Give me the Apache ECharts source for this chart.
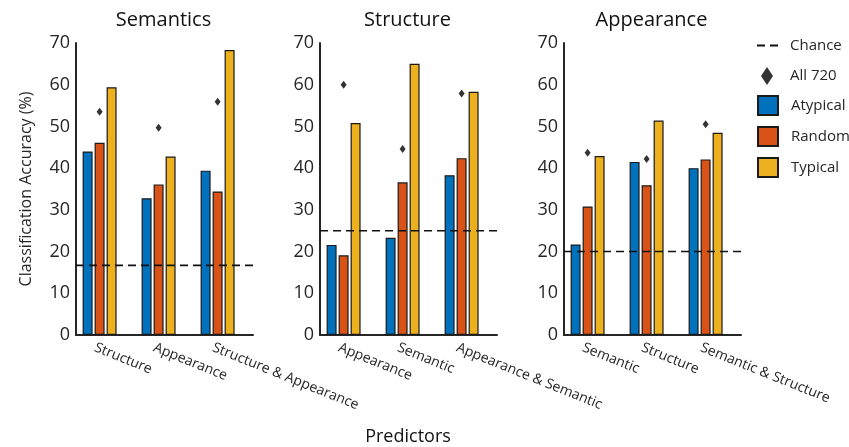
<!DOCTYPE html>
<html>
<head>
<meta charset="utf-8">
<script src="https://cdn.jsdelivr.net/npm/echarts@6/dist/echarts.min.js"></script>
<style>
html,body{margin:0;padding:0;background:#fff;}
#main{width:849px;height:447px;}
</style>
</head>
<body>
<div id="main"></div>
<script>
// ---- data ----
var panelTitles = ['Semantics', 'Structure', 'Appearance'];
var semCats = ['Structure', 'Appearance', 'Structure & Appearance'];
var strCats = ['Appearance', 'Semantic', 'Appearance & Semantic'];
var appCats = ['Semantic', 'Structure', 'Semantic & Structure'];

var semAtypical = [44.0, 32.8, 39.4];
var semRandom   = [46.1, 36.1, 34.4];
var semTypical  = [59.4, 42.8, 68.3];
var semAll720   = [53.5, 49.7, 55.9];

var strAtypical = [21.6, 23.3, 38.3];
var strRandom   = [19.1, 36.6, 42.4];
var strTypical  = [50.8, 65.0, 58.3];
var strAll720   = [60.0, 44.6, 57.9];

var appAtypical = [21.7, 41.5, 40.0];
var appRandom   = [30.8, 35.9, 42.1];
var appTypical  = [42.9, 51.4, 48.5];
var appAll720   = [43.7, 42.2, 50.5];

var chanceLevels = [16.7, 25, 20];
var yTicks = [0, 10, 20, 30, 40, 50, 60, 70];

// ---- build ----
var FONT = '"Open Sans", "DejaVu Sans", sans-serif';
var TXT = '#262626';
var COLORS = {Atypical: '#0072BD', Random: '#D95319', Typical: '#EDB120'};
var panels = [
  {cats: semCats, a: semAtypical, r: semRandom, t: semTypical, all: semAll720},
  {cats: strCats, a: strAtypical, r: strRandom, t: strTypical, all: strAll720},
  {cats: appCats, a: appAtypical, r: appRandom, t: appTypical, all: appAll720}
];
var gridLefts = [76, 320, 564];
var gridW = 177, gridTop = 43, gridH = 292;
var xMin = 0.6, xMax = 3.6;

function pos(arr) { return arr.map(function (v, i) { return [i + 1, v]; }); }

var grids = [], xAxes = [], yAxes = [], series = [], titles = [];
panels.forEach(function (p, k) {
  grids.push({left: gridLefts[k], top: gridTop, width: gridW, height: gridH, containLabel: false});
  xAxes.push({
    type: 'value', gridIndex: k, min: xMin, max: xMax,
    splitLine: {show: false},
    axisLine: {show: true, onZero: false, lineStyle: {color: TXT, width: 2}},
    axisTick: {show: false},
    axisLabel: {
      customValues: [1, 2, 3],
      formatter: (function (cats) { return function (v) { return cats[Math.round(v) - 1] || ''; }; })(p.cats),
      rotate: -22, margin: 14, fontSize: 14, color: TXT, fontFamily: FONT, hideOverlap: false,
      padding: [0, 0, 0, -5]
    }
  });
  yAxes.push({
    type: 'value', gridIndex: k, min: yTicks[0], max: yTicks[yTicks.length - 1], interval: 10,
    splitLine: {show: false},
    axisLine: {show: true, lineStyle: {color: TXT, width: 2}},
    axisTick: {show: false},
    axisLabel: {fontSize: 18, color: TXT, fontFamily: FONT, margin: 6},
    name: k === 0 ? 'Classification Accuracy (%)' : '',
    nameLocation: 'middle', nameGap: 42,
    nameTextStyle: {fontSize: 16, color: TXT, fontFamily: FONT}
  });
  titles.push({
    text: panelTitles[k], left: gridLefts[k] - 6 + gridW / 2, top: 5, textAlign: 'center',
    textStyle: {fontSize: 20, fontWeight: 'normal', color: '#111', fontFamily: FONT}
  });
  [['Atypical', p.a], ['Random', p.r], ['Typical', p.t]].forEach(function (s) {
    series.push({
      name: s[0], type: 'bar', xAxisIndex: k, yAxisIndex: k,
      data: pos(s[1]), barWidth: 10, barGap: '20%',
      itemStyle: {color: COLORS[s[0]], borderColor: '#1a1a1a', borderWidth: 1.2},
      emphasis: {disabled: true}, z: 2
    });
  });
  series.push({
    name: 'All 720', type: 'scatter', xAxisIndex: k, yAxisIndex: k,
    data: pos(p.all), symbol: 'diamond', symbolSize: [6, 8],
    itemStyle: {color: '#000'}, z: 4
  });
  series.push({
    name: 'Chance', type: 'line', xAxisIndex: k, yAxisIndex: k,
    data: [[xMin, chanceLevels[k]], [xMax, chanceLevels[k]]],
    symbol: 'none', silent: true,
    itemStyle: {color: '#111'},
    lineStyle: {color: '#111', width: 1.6, type: [8, 5]}, z: 5
  });
});

titles.push({
  text: 'Predictors', left: 403, top: 423, textAlign: 'center',
  textStyle: {fontSize: 18, fontWeight: 'normal', color: '#111', fontFamily: FONT}
});

var legendText = {fontSize: 15, color: TXT, fontFamily: FONT};
var option = {
  animation: false,
  backgroundColor: '#fff',
  title: titles,
  grid: grids,
  xAxis: xAxes,
  yAxis: yAxes,
  legend: [
    {data: [{name: 'Chance', icon: 'path://M0,0H8V2H0Z M13,0H21V2H13Z'}], left: 757, top: 38, padding: 0,
     orient: 'vertical', itemWidth: 21, itemHeight: 2,
     itemStyle: {color: '#111'},
     textStyle: Object.assign({padding: [0, 0, 0, 7]}, legendText), selectedMode: false},
    {data: [{name: 'All 720', icon: 'diamond'}], left: 761, top: 67, padding: 0, orient: 'vertical',
     itemWidth: 12, itemHeight: 18, itemStyle: {color: '#000'},
     textStyle: Object.assign({padding: [0, 0, 0, 12]}, legendText), selectedMode: false},
    {data: [{name: 'Atypical', icon: 'rect'}, {name: 'Random', icon: 'rect'}, {name: 'Typical', icon: 'rect'}],
     left: 757, top: 95, padding: 0, orient: 'vertical',
     itemWidth: 20, itemHeight: 19, itemGap: 10,
     textStyle: Object.assign({padding: [0, 0, 0, 8]}, legendText), selectedMode: false}
  ],
  series: series
};

var chart = echarts.init(document.getElementById('main'), null, {renderer: 'canvas'});
chart.setOption(option);
</script>
</body>
</html>
